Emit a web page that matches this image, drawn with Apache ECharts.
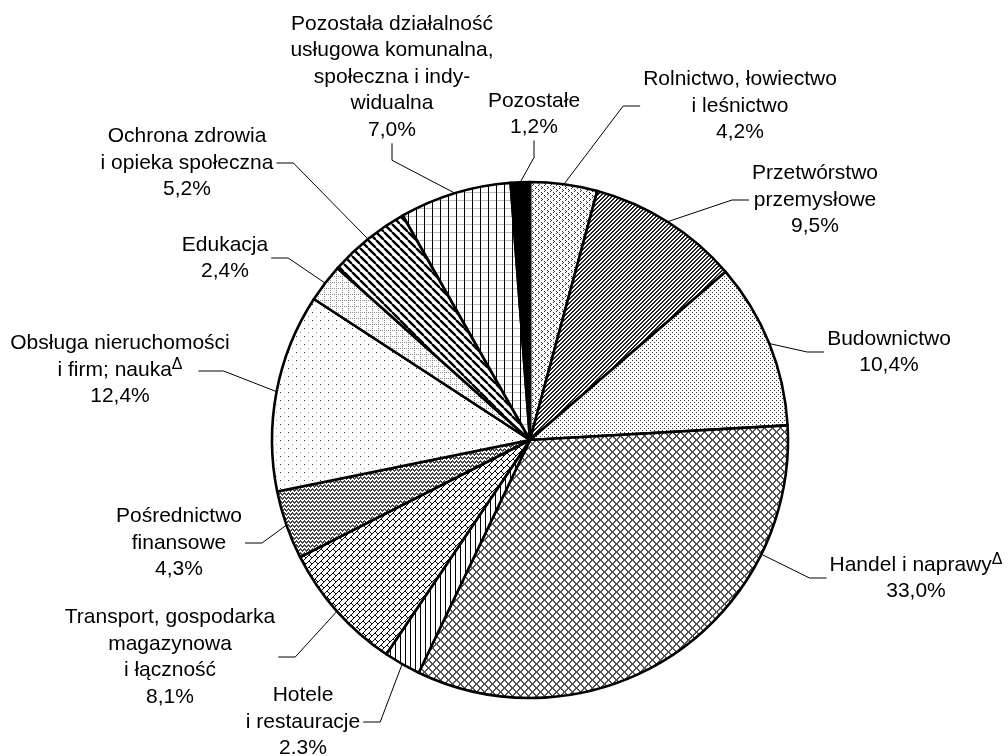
<!DOCTYPE html>
<html>
<head>
<meta charset="utf-8">
<script src="https://cdn.jsdelivr.net/npm/echarts@6/dist/echarts.min.js"></script>
<style>
html,body{margin:0;padding:0;background:#fff;}
#chart{width:1008px;height:756px;}
</style>
</head>
<body>
<div id="chart"></div>
<script>
// ---- data ----
const categories = [
  'Rolnictwo, łowiectwo\ni leśnictwo',
  'Przetwórstwo\nprzemysłowe',
  'Budownictwo',
  'Handel i naprawy{sup|Δ}',
  'Hotele\ni restauracje',
  'Transport, gospodarka\nmagazynowa\ni łączność',
  'Pośrednictwo\nfinansowe',
  'Obsługa nieruchomości\ni firm; nauka{sup|Δ}',
  'Edukacja',
  'Ochrona zdrowia\ni opieka społeczna',
  'Pozostała działalność\nusługowa komunalna,\nspołeczna i indy-\nwidualna',
  'Pozostałe'
];
const values = [4.2, 9.5, 10.4, 33.0, 2.3, 8.1, 4.3, 12.4, 2.4, 5.2, 7.0, 1.2];
const valueLabels = ['4,2%', '9,5%', '10,4%', '33,0%', '2.3%', '8,1%', '4,3%', '12,4%', '2,4%', '5,2%', '7,0%', '1,2%'];

// ---- layout ----
const CX = 530, CY = 440, R = 258, LEN2 = 17;
const FONT = 'Liberation Sans, Arial, sans-serif';
const labelPos = [
  [740, 106], [815, 200], [889, 352], [916, 578], [303, 722], [170, 657],
  [179, 543], [120, 370], [225, 258], [187, 163], [392, 77], [534, 114]
];
const nearestLeader = [3];      // leader starts at rim point facing the label
const middleLineLeader = [7];   // leader attaches beside the middle text line

// ---- fill patterns ----
function pat(w, h, draw) {
  const c = document.createElement('canvas');
  c.width = w; c.height = h;
  const g = c.getContext('2d');
  g.fillStyle = '#fff'; g.fillRect(0, 0, w, h);
  draw(g, w, h);
  return { image: c, repeat: 'repeat' };
}
function px(g, pts, col) { g.fillStyle = col || '#000'; pts.forEach(p => g.fillRect(p[0], p[1], 1, 1)); }

const fills = [
  pat(6, 6, g => px(g, [[1,0],[2,1],[1,2],[4,3],[5,4],[4,5]], '#333')),
  pat(4, 4, g => { const p = []; for (let i = 0; i < 4; i++) { p.push([3 - i, i]); p.push([(4 - i) % 4, i]); } px(g, p, '#222'); }),
  pat(4, 4, g => px(g, [[0,0],[2,2]], '#333')),
  pat(8, 8, g => { const p = []; for (let i = 0; i < 8; i++) { p.push([i, i]); p.push([7 - i, i]); p.push([(i + 1) % 8, i]); p.push([(8 - i) % 8, i]); } px(g, p, '#555'); }),
  pat(5, 4, g => px(g, [[0,0],[0,1],[0,2],[0,3]], '#000')),
  pat(6, 6, g => { const p = []; for (let i = 0; i < 6; i++) p.push([5 - i, i]); for (let j = 0; j < 3; j++) p.push([3 + j, 3 + j]); px(g, p, '#000'); }),
  pat(4, 4, g => px(g, [[0,0],[1,1],[2,2],[3,1],[0,1],[1,2],[2,3],[3,2]], '#444')),
  pat(8, 8, g => { px(g, [[0,0]], '#333'); px(g, [[4,4]], '#999'); }),
  pat(6, 6, g => { const p = []; for (let i = 0; i < 6; i += 2) { p.push([i, 0]); p.push([0, i]); } px(g, p, '#888'); }),
  pat(8, 8, g => { g.strokeStyle = '#000'; g.lineWidth = 2.4; for (let k = -8; k <= 8; k += 8) { g.beginPath(); g.moveTo(k, 0); g.lineTo(k + 8, 8); g.stroke(); } }),
  pat(8, 8, g => { g.fillStyle = '#bbb'; g.fillRect(0, 0, 8, 1); g.fillStyle = '#000'; g.fillRect(0, 0, 1, 8); }),
  '#000'
];

// text width helper for leader attachment
const mctx = document.createElement('canvas').getContext('2d');
function lineWidthOf(str) {
  let w = 0;
  const parts = str.split(/(\{sup\|[^}]*\})/);
  parts.forEach(s => {
    const m = s.match(/^\{sup\|([^}]*)\}$/);
    if (m) { mctx.font = '16px ' + FONT; w += mctx.measureText(m[1]).width; }
    else if (s) { mctx.font = '21px ' + FONT; w += mctx.measureText(s).width; }
  });
  return w;
}

const data = categories.map((n, i) => ({ name: n, value: values[i], itemStyle: { color: fills[i] } }));

const chart = echarts.init(document.getElementById('chart'));
chart.setOption({
  animation: false,
  backgroundColor: '#fff',
  series: [{
    type: 'pie',
    center: [CX, CY],
    radius: R,
    startAngle: 90,
    clockwise: true,
    avoidLabelOverlap: false,
    data: data,
    itemStyle: { borderColor: '#000', borderWidth: 2.6 },
    label: {
      show: true,
      position: 'outside',
      color: '#000',
      fontFamily: FONT,
      fontSize: 21,
      lineHeight: 26.5,
      align: 'center',
      padding: [0, 3],
      formatter: p => categories[p.dataIndex] + '\n' + valueLabels[p.dataIndex],
      rich: {
        sup: { fontSize: 16, lineHeight: 26.5, verticalAlign: 'top', padding: [0, 0, 14, 0], fontFamily: FONT, color: '#000' }
      }
    },
    labelLine: { show: true, length: 10, length2: LEN2, lineStyle: { color: '#000', width: 1 } },
    labelLayout: function (params) {
      const i = params.dataIndex;
      const p = labelPos[i];
      const out = { x: p[0], y: p[1], align: 'center', verticalAlign: 'middle' };
      if (nearestLeader.indexOf(i) >= 0) {
        const w = params.labelRect.width;
        const left = p[0] - w / 2;
        const bend = [left - LEN2, p[1]];
        const a = Math.atan2(bend[1] - CY, bend[0] - CX);
        const rim = [CX + R * Math.cos(a), CY + R * Math.sin(a)];
        out.labelLinePoints = [rim, bend, [left, p[1]]];
      }
      if (middleLineLeader.indexOf(i) >= 0 && params.labelLinePoints) {
        const lines = categories[i].split('\n');
        const mid = lines[1];
        const right = p[0] + lineWidthOf(mid) / 2;
        const end = [right + 16, p[1] + 1];
        const bend = [end[0] + 25, end[1]];
        out.labelLinePoints = [params.labelLinePoints[0], bend, end];
      }
      return out;
    },
    emphasis: { disabled: true }
  }]
});
</script>
</body>
</html>
